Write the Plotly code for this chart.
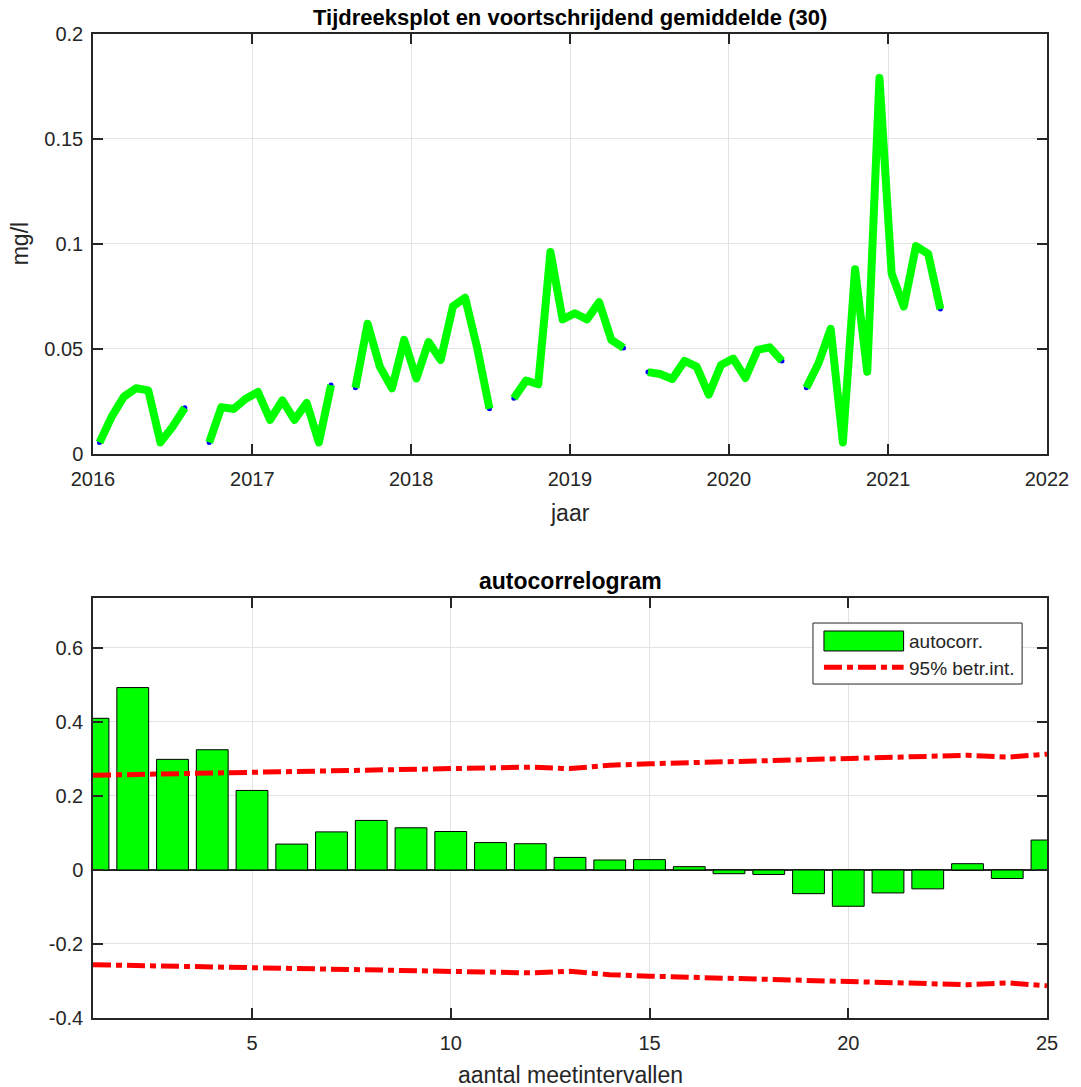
import plotly.graph_objects as go

# ---- top panel data (4-weekly sampling, None = missing) ----
dates = [
    "2016-01-16", "2016-02-13", "2016-03-12", "2016-04-09", "2016-05-07", "2016-06-04",
    "2016-07-02", "2016-07-30", "2016-08-27", "2016-09-24", "2016-10-22", "2016-11-19",
    "2016-12-17", "2017-01-14", "2017-02-11", "2017-03-11", "2017-04-08", "2017-05-06",
    "2017-06-03", "2017-07-01", "2017-07-29", "2017-08-26", "2017-09-23", "2017-10-21",
    "2017-11-18", "2017-12-16", "2018-01-13", "2018-02-10", "2018-03-10", "2018-04-07",
    "2018-05-05", "2018-06-02", "2018-06-30", "2018-07-28", "2018-08-25", "2018-09-22",
    "2018-10-20", "2018-11-17", "2018-12-15", "2019-01-12", "2019-02-09", "2019-03-09",
    "2019-04-06", "2019-05-04", "2019-06-01", "2019-06-29", "2019-07-27", "2019-08-24",
    "2019-09-21", "2019-10-19", "2019-11-16", "2019-12-14", "2020-01-11", "2020-02-08",
    "2020-03-07", "2020-04-04", "2020-05-02", "2020-05-30", "2020-06-27", "2020-07-25",
    "2020-08-22", "2020-09-19", "2020-10-17", "2020-11-14", "2020-12-12", "2021-01-09",
    "2021-02-06", "2021-03-06", "2021-04-03", "2021-05-01",
]
conc = [
    0.0055, 0.0178, 0.0273, 0.0313, 0.0303, 0.0055, 0.0130, 0.0220, None,
    0.0055, 0.0223, 0.0214, 0.0263, 0.0295, 0.0162, 0.0255, 0.0162, 0.0243, 0.0055, 0.0328, None,
    0.0315, 0.0620, 0.0416, 0.0313, 0.0543, 0.0360, 0.0533, 0.0448, 0.0703, 0.0744, 0.0503, 0.0215, None,
    0.0265, 0.0350, 0.0332, 0.0962, 0.0641, 0.0670, 0.0641, 0.0723, 0.0543, 0.0505, None,
    0.0390, 0.0381, 0.0357, 0.0443, 0.0416, 0.0283, 0.0424, 0.0454, 0.0362, 0.0496, 0.0508, 0.0443, None,
    0.0315, 0.0432, 0.0596, 0.0055, 0.0880, 0.0392, 0.1790, 0.0860, 0.0702, 0.0990, 0.0953, 0.0690,
]
year_ticks = ["2016-01-01", "2017-01-01", "2018-01-01", "2019-01-01", "2020-01-01", "2021-01-01", "2022-01-01"]
year_labels = ["2016", "2017", "2018", "2019", "2020", "2021", "2022"]
top_yticks = [0, 0.05, 0.1, 0.15, 0.2]
top_ylabels = ["0", "0.05", "0.1", "0.15", "0.2"]

# ---- bottom panel data ----
lags = list(range(1, 26))
autocorr = [0.410, 0.493, 0.299, 0.325, 0.215, 0.070, 0.103, 0.134, 0.114, 0.104,
            0.074, 0.071, 0.034, 0.027, 0.028, 0.009, -0.010, -0.012, -0.064, -0.098,
            -0.062, -0.051, 0.017, -0.023, 0.081]
conf95 = [0.256, 0.258, 0.260, 0.262, 0.264, 0.266, 0.268, 0.270, 0.271, 0.273,
          0.275, 0.278, 0.274, 0.283, 0.287, 0.290, 0.293, 0.296, 0.299, 0.302,
          0.303, 0.306, 0.310, 0.305, 0.313]
conf95_low = [-v for v in conf95]
bot_xticks = [5, 10, 15, 20, 25]
bot_yticks = [-0.4, -0.2, 0, 0.2, 0.4, 0.6]
bot_ylabels = ["-0.4", "-0.2", "0", "0.2", "0.4", "0.6"]
legend_labels = ["autocorr.", "95% betr.int."]

FONT = "Liberation Sans, Arial, sans-serif"
AX = "#262626"
GRID = "#e3e3e3"
GREEN = "#00ff00"
DASH = "18px,5px,6px,5px"

fig = go.Figure()

fig.add_trace(go.Scatter(x=dates, y=conc, mode="markers", marker=dict(color="blue", size=5),
                         xaxis="x", yaxis="y", showlegend=False, hoverinfo="skip"))
fig.add_trace(go.Scatter(x=dates, y=conc, mode="lines", line=dict(color=GREEN, width=8),
                         xaxis="x", yaxis="y", showlegend=False, connectgaps=False))

fig.add_trace(go.Bar(x=lags, y=autocorr, width=0.8, name=legend_labels[0], showlegend=False,
                     marker=dict(color=GREEN, line=dict(color="black", width=1)),
                     xaxis="x2", yaxis="y2"))
fig.add_trace(go.Scatter(x=lags, y=conf95, mode="lines", name=legend_labels[1], showlegend=False,
                         line=dict(color="red", width=5, dash=DASH),
                         xaxis="x2", yaxis="y2"))
fig.add_trace(go.Scatter(x=lags, y=conf95_low, mode="lines", showlegend=False,
                         line=dict(color="red", width=5, dash=DASH),
                         xaxis="x2", yaxis="y2"))

axis_common = dict(showline=True, linecolor=AX, linewidth=1.5, mirror="ticks", ticks="inside",
                   ticklen=10, tickcolor=AX, tickwidth=1.5, showgrid=True, gridcolor=GRID,
                   gridwidth=1, tickfont=dict(family=FONT, size=20, color=AX))

# manual legend box (MATLAB style, wide bar patch)
legend_shapes = [
    dict(type="rect", xref="paper", yref="paper", x0=0.7547, x1=0.9739, y0=0.3394, y1=0.4014,
         fillcolor="white", line=dict(color=AX, width=1), layer="above"),
    dict(type="rect", xref="paper", yref="paper", x0=0.7662, x1=0.8497, y0=0.3730, y1=0.3933,
         fillcolor=GREEN, line=dict(color="black", width=1), layer="above"),
    dict(type="line", xref="paper", yref="paper", x0=0.7662, x1=0.8497, y0=0.3564, y1=0.3564,
         line=dict(color="red", width=5, dash=DASH), layer="above"),
]

fig.update_layout(
    width=1081, height=1087,
    margin=dict(l=93, r=30, t=34, b=69),
    paper_bgcolor="white", plot_bgcolor="white",
    font=dict(family=FONT, color=AX),
    showlegend=False,
    xaxis=dict(domain=[0, 1], anchor="y", type="date",
               range=["2016-01-01", "2022-01-01"], tickvals=year_ticks, ticktext=year_labels,
               zeroline=False, ticklabelstandoff=6, **axis_common),
    yaxis=dict(domain=[0.5732, 1], anchor="x", range=[0, 0.2], tickvals=top_yticks,
               ticktext=top_ylabels, zeroline=False, ticklabelstandoff=4, **axis_common),
    xaxis2=dict(domain=[0, 1], anchor="y2", range=[1, 25], tickvals=bot_xticks,
                zeroline=False, ticklabelstandoff=6, **axis_common),
    yaxis2=dict(domain=[0, 0.4268], anchor="x2", range=[-0.4, 0.735], tickvals=bot_yticks,
                ticktext=bot_ylabels, zeroline=True, zerolinecolor=AX, zerolinewidth=1.5,
                ticklabelstandoff=4, **axis_common),
    bargap=0.2,
    shapes=legend_shapes,
    annotations=[
        dict(text="<b>Tijdreeksplot en voortschrijdend gemiddelde (30)</b>", xref="paper", yref="paper",
             x=0.5, y=1.0163, xanchor="center", yanchor="middle", showarrow=False,
             font=dict(family=FONT, size=22, color="black")),
        dict(text="<b>autocorrelogram</b>", xref="paper", yref="paper",
             x=0.5, y=0.4441, xanchor="center", yanchor="middle", showarrow=False,
             font=dict(family=FONT, size=23, color="black")),
        dict(text="jaar", xref="paper", yref="paper", x=0.5, y=0.5132,
             xanchor="center", yanchor="middle", showarrow=False,
             font=dict(family=FONT, size=23, color=AX)),
        dict(text="mg/l", xref="paper", yref="paper", x=-0.0762, y=0.7866, textangle=-90,
             xanchor="center", yanchor="middle", showarrow=False,
             font=dict(family=FONT, size=23, color=AX)),
        dict(text="aantal meetintervallen", xref="paper", yref="paper", x=0.5, y=-0.0579,
             xanchor="center", yanchor="middle", showarrow=False,
             font=dict(family=FONT, size=23, color=AX)),
        dict(text=legend_labels[0], xref="paper", yref="paper", x=0.8529, y=0.3824,
             xanchor="left", yanchor="middle", showarrow=False,
             font=dict(family=FONT, size=19, color=AX)),
        dict(text=legend_labels[1], xref="paper", yref="paper", x=0.8529, y=0.3554,
             xanchor="left", yanchor="middle", showarrow=False,
             font=dict(family=FONT, size=19, color=AX)),
    ],
)

post = """
document.body.style.margin = '0';
document.body.style.padding = '0';
document.documentElement.style.overflow = 'hidden';
document.querySelectorAll('.scatterlayer .js-line').forEach(function(p){
  var s = p.style.stroke || '';
  if (s.indexOf('0, 255, 0') >= 0) { p.style.strokeLinejoin = 'round'; }
});
"""
fig.write_html("out.html", post_script=post, config={"displayModeBar": False})
